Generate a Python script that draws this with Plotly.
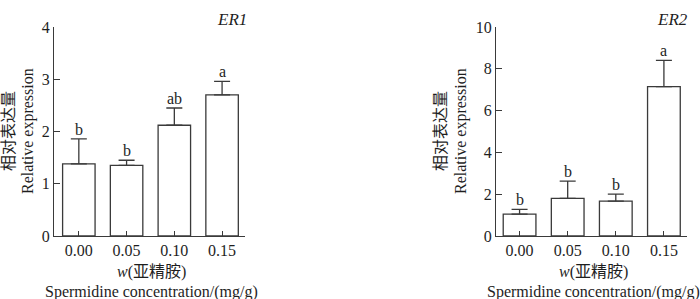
import plotly.graph_objects as go

categories = ["0.00", "0.05", "0.10", "0.15"]
er1_values = [1.38, 1.35, 2.12, 2.70]
er1_errors = [0.48, 0.10, 0.33, 0.26]
er1_letters = ["b", "b", "ab", "a"]
er2_values = [1.05, 1.80, 1.67, 7.15]
er2_errors = [0.22, 0.83, 0.33, 1.25]
er2_letters = ["b", "b", "b", "a"]
er1_ticks = [0, 1, 2, 3, 4]
er2_ticks = [0, 2, 4, 6, 8, 10]

FONT = '"Liberation Serif", "Times New Roman", "Noto Sans CJK SC", serif'
INK = "#3a3a3a"
TXT = "#1e1e1e"
FS = 16

positions = list(range(len(categories)))

fig = go.Figure()

def add_panel(vals, errs, xa, ya):
    fig.add_trace(go.Bar(
        x=positions, y=vals, xaxis=xa, yaxis=ya, width=0.68,
        marker=dict(color="white", line=dict(color=INK, width=1.3)),
        error_y=dict(type="data", array=errs, arrayminus=[0] * len(errs),
                     symmetric=False, color=INK, thickness=1.3, width=8),
        showlegend=False,
    ))

add_panel(er1_values, er1_errors, "x", "y")
add_panel(er2_values, er2_errors, "x2", "y2")

annotations = []
for vals, errs, letters, xr, yr in [
    (er1_values, er1_errors, er1_letters, "x", "y"),
    (er2_values, er2_errors, er2_letters, "x2", "y2"),
]:
    for p, v, e, t in zip(positions, vals, errs, letters):
        annotations.append(dict(x=p, y=v + e, xref=xr, yref=yr, text=t,
                                showarrow=False, yanchor="bottom", yshift=-1,
                                font=dict(size=FS, family=FONT, color=TXT)))

def txt(x, y, text, angle=0, italic=False, xanchor="center", size=FS):
    if italic:
        text = "<i>" + text + "</i>"
    annotations.append(dict(x=x / 700, y=1 - y / 299, xref="paper", yref="paper",
                            text=text, showarrow=False, textangle=angle,
                            xanchor=xanchor, yanchor="middle",
                            font=dict(size=size, family=FONT, color=TXT)))

# panel titles
txt(249, 20, "ER1", italic=True, xanchor="right", size=17)
txt(690, 20, "ER2", italic=True, xanchor="right", size=17)
# y titles
for cx_zh, cx_en in [(9, 28), (441, 461)]:
    txt(cx_zh, 131, "相对表达量", angle=-90)
    txt(cx_en, 131, "Relative expression", angle=-90)
# x titles
for cx in [151, 593]:
    txt(cx, 272, "<i>w</i>(亚精胺)")
    txt(cx, 292, "Spermidine concentration/(mg/g)")

ydom = [1 - 236 / 299, 1 - 27 / 299]
xcommon = dict(showline=True, linecolor=INK, linewidth=1.3, ticks="inside",
               ticklen=5, tickcolor=INK, tickwidth=1.2, showgrid=False,
               tickfont=dict(size=FS, family=FONT, color=TXT),
               tickvals=positions, ticktext=categories, zeroline=False)
ycommon = dict(showline=True, linecolor=INK, linewidth=1.3, ticks="inside",
               ticklen=6, tickcolor=INK, tickwidth=1.2, showgrid=False,
               tickfont=dict(size=FS, family=FONT, color=TXT),
               zeroline=False)

fig.update_layout(
    width=700, height=299, autosize=False,
    margin=dict(l=0, r=0, t=0, b=0, pad=0, autoexpand=False),
    plot_bgcolor="white", paper_bgcolor="white",
    xaxis=dict(domain=[54 / 700, 245 / 700], range=[-0.52, 3.48], anchor="y", **xcommon),
    yaxis=dict(domain=ydom, range=[0, 4], tickvals=er1_ticks, anchor="x", **ycommon),
    xaxis2=dict(domain=[496 / 700, 687 / 700], range=[-0.49, 3.48], anchor="y2", **xcommon),
    yaxis2=dict(domain=ydom, range=[0, 10], tickvals=er2_ticks, anchor="x2", **ycommon),
    annotations=annotations,
)

fig.write_html("out.html",
               config={"responsive": False, "displayModeBar": False},
               post_script="document.documentElement.style.margin='0';document.body.style.margin='0';document.body.style.padding='0';document.body.style.overflow='hidden';")
